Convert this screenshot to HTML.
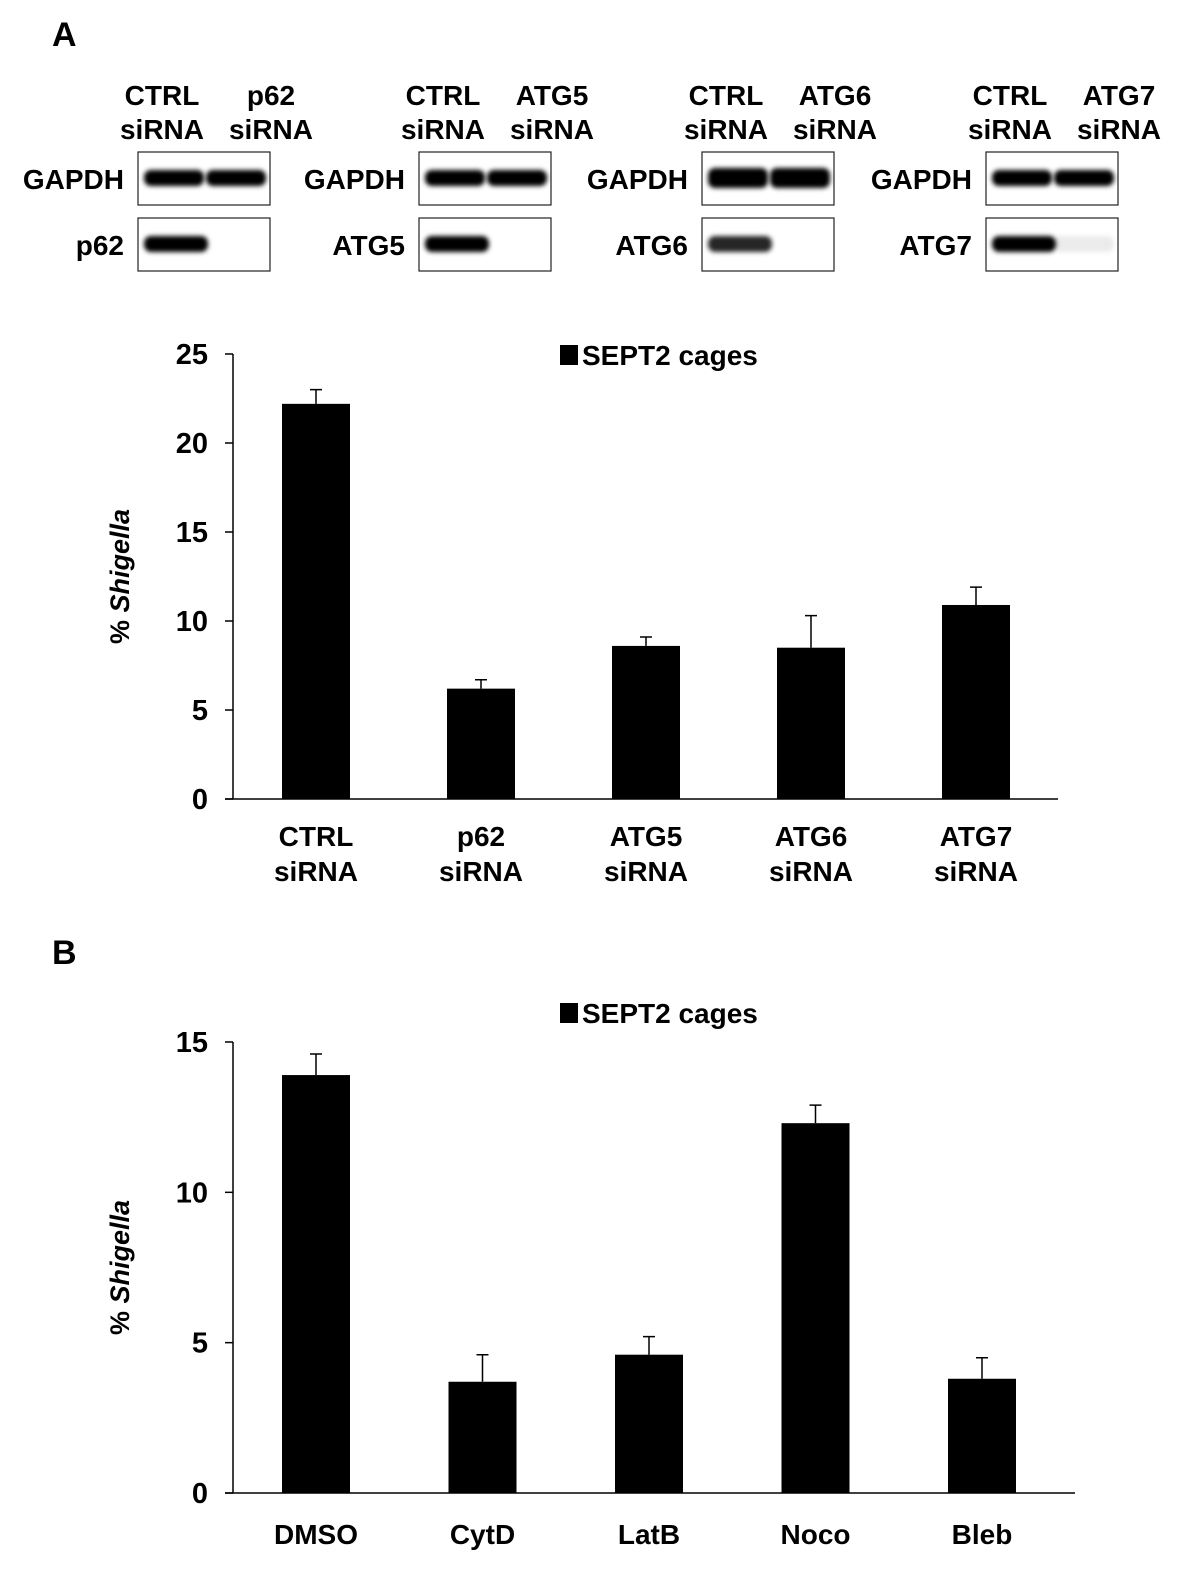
<!DOCTYPE html>
<html><head><meta charset="utf-8"><style>
html,body{margin:0;padding:0;background:#fff;}
svg{display:block;font-family:"Liberation Sans",Arial,sans-serif;font-weight:bold;}
</style></head><body>
<svg id="fig" width="1200" height="1594" viewBox="0 0 1200 1594">
<defs><filter id="bl" x="-20%" y="-100%" width="140%" height="300%"><feGaussianBlur stdDeviation="2.5"/></filter></defs>
<text x="52" y="46" font-size="34">A</text>
<text x="52" y="964" font-size="34">B</text>
<g id="blots"></g>
<g id="chartA"></g>
<g id="chartB"></g>
</svg>
<script>
const NS='http://www.w3.org/2000/svg';
const catsA=[['CTRL','siRNA'],['p62','siRNA'],['ATG5','siRNA'],['ATG6','siRNA'],['ATG7','siRNA']];
const valsA=[22.2,6.2,8.6,8.5,10.9];
const errA=[0.8,0.5,0.5,1.8,1.0];
const ticksA=[0,5,10,15,20,25];
const catsB=['DMSO','CytD','LatB','Noco','Bleb'];
const valsB=[13.9,3.7,4.6,12.3,3.8];
const errB=[0.7,0.9,0.6,0.6,0.7];
const ticksB=[0,5,10,15];

function el(p,t,a,txt){const e=document.createElementNS(NS,t);for(const k in a)e.setAttribute(k,a[k]);if(txt!=null)e.textContent=txt;p.appendChild(e);return e;}

const blots=document.getElementById('blots');
const panels=[{x:138,k:'p62',bands:[[1,1],[1,0]]},{x:419,k:'ATG5',bands:[[1,1],[1,0]]},{x:702,k:'ATG6',bands:[[1,1],[0.85,0]]},{x:986,k:'ATG7',bands:[[1,1],[1,0.08]]}];
panels.forEach((p,i)=>{
  const g=el(blots,'g',{});
  
  
  const c1=p.x+24, c2=p.x+133;
  [[c1,'CTRL'],[c2,p.k]].forEach(([cx,t])=>{
    const h=el(g,'text',{x:cx,y:105,'font-size':28,'text-anchor':'middle'},t);
    
    
    const s=el(g,'text',{x:cx,y:139,'font-size':28,'text-anchor':'middle'},'siRNA');
    
    
  });
  [['GAPDH',152],[p.k,218]].forEach(([lab,y],r)=>{
    const t=el(g,'text',{x:p.x-14,y:y+37,'font-size':28,'text-anchor':'end'},lab);
    
    
    const b=el(g,'rect',{x:p.x,y:y,width:132,height:53,fill:'#fff',stroke:'#222','stroke-width':1.2});
    
    
    const op=p.bands[r];
    [[p.x+36,op[0]],[p.x+98,op[1]]].forEach(([bx,o],j)=>{
      if(o<=0)return;
      const w=(r===1&&j===0)?64:60;
      const h=(i===2&&r===0)?20:16;
      const e=el(g,'rect',{x:(r===1&&j===0)?p.x+6:bx-w/2,y:y+26-h/2,width:w,height:h,rx:7,fill:'#000','fill-opacity':o,filter:'url(#bl)'});
      
      
    });
  });
});

function chart(gid,cats,vals,errs,ticks,o){
  const g=document.getElementById(gid);
  const yMax=ticks[ticks.length-1];
  const y=v=>o.y0-(v/yMax)*(o.y0-o.yTop);
  const x=i=>o.x0+o.first+i*o.step;
  const ax=el(g,'line',{x1:o.ax,y1:o.yTop,x2:o.ax,y2:o.y0,stroke:'#000','stroke-width':1.5});
  
  
  const xa=el(g,'line',{x1:o.ax-8,y1:o.y0,x2:o.xEnd,y2:o.y0,stroke:'#000','stroke-width':1.5});
  
  
  ticks.forEach(t=>{
    el(g,'line',{x1:o.ax-8,y1:y(t),x2:o.ax,y2:y(t),stroke:'#000','stroke-width':1.5});
    const tl=el(g,'text',{x:o.ax-25,y:y(t)+10,'font-size':29,'text-anchor':'end'},t);
    
    
  });
  const yt=el(g,'text',{transform:`translate(129,${(o.y0+o.yTop)/2}) rotate(-90)`,'font-size':27,'text-anchor':'middle'});
  
  
  el(yt,'tspan',{},'% ');el(yt,'tspan',{'font-style':'italic'},'Shigella');
  vals.forEach((v,i)=>{
    const cx=x(i);
    const r=el(g,'rect',{x:cx-34,y:y(v),width:68,height:o.y0-y(v),fill:'#000'});
    
    
    const e=el(g,'path',{d:`M${cx},${y(v)}V${y(v+errs[i])}M${cx-6},${y(v+errs[i])}H${cx+6}`,stroke:'#000','stroke-width':1.5,fill:'none'});
    
    
    const lab=Array.isArray(cats[i])?cats[i]:[cats[i]];
    lab.forEach((s,k)=>{
      const t=el(g,'text',{x:cx,y:o.labY+k*35,'font-size':28,'text-anchor':'middle'},s);
      
      
    });
  });
  const lg=el(g,'g',{});
  
  
  el(lg,'rect',{x:560,y:o.legY-20,width:18,height:20,fill:'#000'});
  el(lg,'text',{x:582,y:o.legY,'font-size':28},'SEPT2 cages');
}
chart('chartA',catsA,valsA,errA,ticksA,{ax:233,x0:0,first:316,step:165,y0:799,yTop:354,xEnd:1058,labY:846,legY:365});
chart('chartB',catsB,valsB,errB,ticksB,{ax:233,x0:0,first:316,step:166.5,y0:1493,yTop:1042,xEnd:1075,labY:1544,legY:1023});
</script>
</body></html>
